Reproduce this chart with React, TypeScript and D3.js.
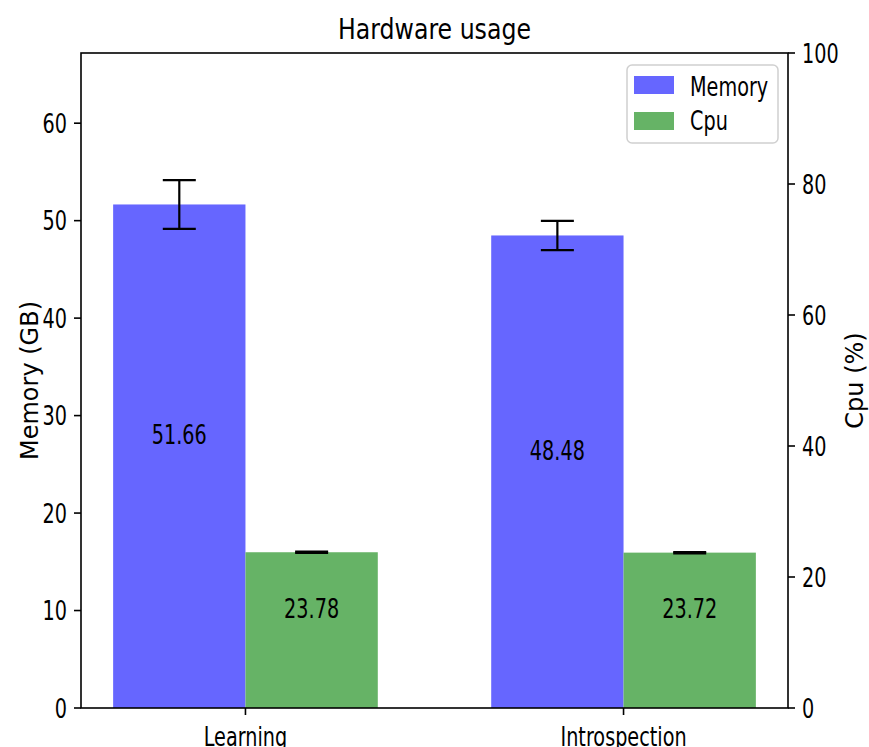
import React from "react";
import * as d3 from "d3";

const categories = ["Learning", "Introspection"];
const memoryValues = [51.66, 48.48];
const memoryErrors = [2.5, 1.5];
const cpuValues = [23.78, 23.72];
const cpuErrors = [0.1, 0.1];
const memoryTicks = [0, 10, 20, 30, 40, 50, 60];
const cpuTicks = [0, 20, 40, 60, 80, 100];

const W = 869;
const H = 747;
const margin = { left: 81, right: 788, top: 53, bottom: 708 };
const barWidth = 0.35;
const memColor = "#6666ff";
const cpuColor = "#66b366";
const FONT = "DejaVu Sans, sans-serif";
const SX = 0.74; // horizontal squeeze of the upright text

const HText = ({ x, y, size, anchor = "middle", sx = SX, children }: any) => (
  <text
    transform={`translate(${x},${y}) scale(${sx},1)`}
    textAnchor={anchor}
    fontSize={size}
    fontFamily={FONT}
    fill="#000"
  >
    {children}
  </text>
);

const App = () => {
  const x = d3.scaleLinear().domain([-0.435, 1.435]).range([margin.left, margin.right]);
  const yMem = d3.scaleLinear().domain([0, 67.2]).range([margin.bottom, margin.top]);
  const yCpu = d3.scaleLinear().domain([0, 100]).range([margin.bottom, margin.top]);
  const capHalf = 16.5;

  return (
    <svg width={W} height={H} style={{ position: "absolute", left: 0, top: 0, background: "#fff" }}>
      {/* bars */}
      {categories.map((c, i) => (
        <g key={c}>
          <rect
            x={x(i - barWidth)}
            y={yMem(memoryValues[i])}
            width={x(i) - x(i - barWidth)}
            height={yMem(0) - yMem(memoryValues[i])}
            fill={memColor}
          />
          <rect
            x={x(i)}
            y={yCpu(cpuValues[i])}
            width={x(i + barWidth) - x(i)}
            height={yCpu(0) - yCpu(cpuValues[i])}
            fill={cpuColor}
          />
        </g>
      ))}

      {/* error bars */}
      {categories.map((c, i) => {
        const mx = x(i - barWidth / 2);
        const cx = x(i + barWidth / 2);
        const mTop = yMem(memoryValues[i] + memoryErrors[i]);
        const mBot = yMem(memoryValues[i] - memoryErrors[i]);
        const cTop = yCpu(cpuValues[i] + cpuErrors[i]);
        const cBot = yCpu(cpuValues[i] - cpuErrors[i]);
        return (
          <g key={c} stroke="#000" strokeWidth={2.2}>
            <line x1={mx} x2={mx} y1={mTop} y2={mBot} />
            <line x1={mx - capHalf} x2={mx + capHalf} y1={mTop} y2={mTop} />
            <line x1={mx - capHalf} x2={mx + capHalf} y1={mBot} y2={mBot} />
            <line x1={cx} x2={cx} y1={cTop} y2={cBot} />
            <line x1={cx - capHalf} x2={cx + capHalf} y1={cTop} y2={cTop} />
            <line x1={cx - capHalf} x2={cx + capHalf} y1={cBot} y2={cBot} />
          </g>
        );
      })}

      {/* value labels */}
      {categories.map((c, i) => (
        <g key={c}>
          <HText x={x(i - barWidth / 2)} y={yMem(memoryValues[i] / 2) - 12} size={26}>
            {memoryValues[i].toFixed(2)}
          </HText>
          <HText x={x(i + barWidth / 2)} y={yCpu(cpuValues[i] / 2) - 12} size={26}>
            {cpuValues[i].toFixed(2)}
          </HText>
        </g>
      ))}

      {/* frame */}
      <rect
        x={margin.left}
        y={margin.top}
        width={margin.right - margin.left}
        height={margin.bottom - margin.top}
        fill="none"
        stroke="#000"
        strokeWidth={1.6}
      />

      {/* left axis */}
      {memoryTicks.map((t) => (
        <g key={t}>
          <line x1={margin.left - 7} x2={margin.left} y1={yMem(t)} y2={yMem(t)} stroke="#000" strokeWidth={1.6} />
          <HText x={margin.left - 14} y={yMem(t) + 9.5} size={26} anchor="end">
            {t}
          </HText>
        </g>
      ))}

      {/* right axis */}
      {cpuTicks.map((t) => (
        <g key={t}>
          <line x1={margin.right} x2={margin.right + 7} y1={yCpu(t)} y2={yCpu(t)} stroke="#000" strokeWidth={1.6} />
          <HText x={margin.right + 14} y={yCpu(t) + 9.5} size={26} anchor="start">
            {t}
          </HText>
        </g>
      ))}

      {/* x axis */}
      {categories.map((c, i) => (
        <g key={c}>
          <line x1={x(i)} x2={x(i)} y1={margin.bottom} y2={margin.bottom + 7} stroke="#000" strokeWidth={1.6} />
          <HText x={x(i)} y={746} size={26}>
            {c}
          </HText>
        </g>
      ))}

      {/* axis titles */}
      <text
        transform={`translate(38,${(margin.top + margin.bottom) / 2}) rotate(-90)`}
        textAnchor="middle"
        fontSize={24}
        fontFamily={FONT}
      >
        Memory (GB)
      </text>
      <text
        transform={`translate(863,${(margin.top + margin.bottom) / 2}) rotate(-90)`}
        textAnchor="middle"
        fontSize={24}
        fontFamily={FONT}
      >
        Cpu (%)
      </text>

      {/* title */}
      <HText x={(margin.left + margin.right) / 2} y={39} size={29} sx={0.815}>
        Hardware usage
      </HText>

      {/* legend */}
      <g>
        <rect x={627} y={65} width={151} height={78} rx={5} fill="#fff" fillOpacity={0.8} stroke="#d0d0d0" strokeWidth={1.5} />
        <rect x={634} y={76} width={40} height={18} fill={memColor} />
        <rect x={634} y={112} width={40} height={18} fill={cpuColor} />
        <HText x={690} y={96} size={26} anchor="start">Memory</HText>
        <HText x={690} y={130} size={26} anchor="start">Cpu</HText>
      </g>
    </svg>
  );
};

export default App;
